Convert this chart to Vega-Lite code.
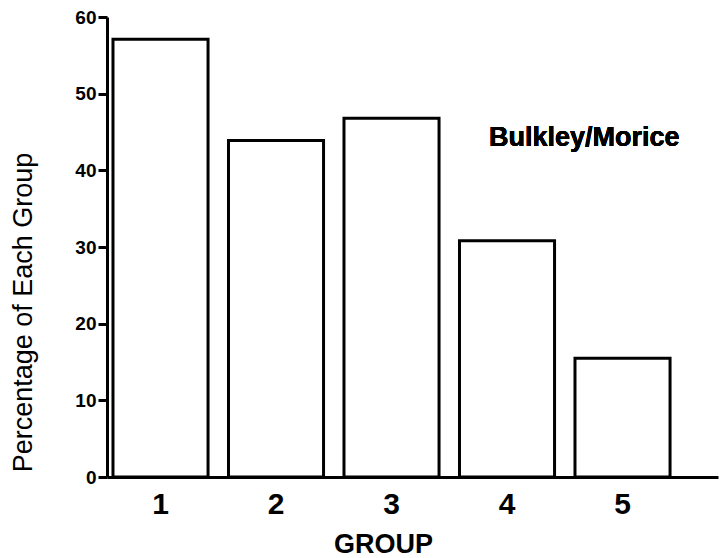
{
  "$schema": "https://vega.github.io/schema/vega-lite/v6.json",
  "autosize": "none",
  "width": 611,
  "height": 460,
  "padding": {"left": 107, "top": 17, "right": 3, "bottom": 81},
  "background": "white",
  "config": {
    "view": {"stroke": null},
    "font": "Liberation Sans",
    "axis": {
      "domainColor": "black",
      "domainWidth": 3,
      "tickColor": "black",
      "tickWidth": 3,
      "labelColor": "black",
      "titleColor": "black",
      "grid": false
    }
  },
  "data": {
    "values": [
      {"group": "1", "pct": 57.1},
      {"group": "2", "pct": 43.9},
      {"group": "3", "pct": 46.8},
      {"group": "4", "pct": 30.8},
      {"group": "5", "pct": 15.5}
    ]
  },
  "layer": [
    {
      "mark": {"type": "bar", "fill": "white", "stroke": "black", "strokeWidth": 3},
      "encoding": {
        "x": {
          "field": "group",
          "type": "ordinal",
          "scale": {"paddingInner": 0.177, "paddingOuter": 0.2335, "align": 0.111},
          "axis": {
            "title": "GROUP",
            "titleFontSize": 27,
            "titleFontWeight": "bold",
            "titlePadding": 12,
            "titleX": 276,
            "labelAngle": 0,
            "labelFontSize": 30,
            "labelFontWeight": "bold",
            "labelPadding": 12,
            "ticks": false
          }
        },
        "y": {
          "field": "pct",
          "type": "quantitative",
          "scale": {"domain": [0, 60]},
          "axis": {
            "title": "Percentage of Each Group",
            "titleFontSize": 27,
            "titleFontWeight": "normal",
            "titleX": -70,
            "titleY": 295,
            "titleBaseline": "bottom",
            "values": [0, 10, 20, 30, 40, 50, 60],
            "labelFontSize": 19,
            "labelFontWeight": "bold",
            "labelPadding": 2,
            "tickSize": 9
          }
        }
      }
    },
    {
      "mark": {
        "type": "text",
        "text": "Bulkley/Morice",
        "align": "right",
        "baseline": "alphabetic",
        "fontSize": 27,
        "fontWeight": "bold",
        "dx": 57
      },
      "encoding": {
        "x": {"datum": "5"},
        "y": {"datum": 43.2}
      }
    }
  ]
}
